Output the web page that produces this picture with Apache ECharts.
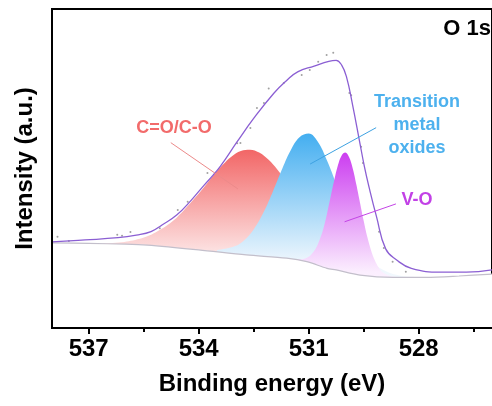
<!DOCTYPE html>
<html>
<head>
<meta charset="utf-8">
<style>
  html, body { margin: 0; padding: 0; background: #fff; }
  #chart { width: 492px; height: 406px; }
</style>
<script src="https://cdn.jsdelivr.net/npm/echarts@6/dist/echarts.min.js"></script>
</head>
<body>
<div id="chart"></div>
<script>
// O 1s XPS spectrum: fitted envelope, Shirley-type background and three component peaks.

// Axis ticks (binding energy, eV)
const MAJOR_TICKS = [537, 534, 531, 528];
const MINOR_TICKS = [535.5, 532.5, 529.5, 526.5];

// Background
const BG_EV = [538.0, 537.0, 536.0, 535.4, 534.0, 532.7, 531.6, 531.05, 530.5, 530.25, 529.6, 528.7, 527.8, 526.9, 526.0];
const BG_I  = [26.7, 26.5, 26.3, 26.0, 24.5, 22.9, 21.9, 20.8, 18.7, 18.2, 16.6, 15.9, 15.9, 16.3, 16.9];

// Fitted envelope
const ENV_EV = [538.0, 537.1, 536.2, 535.7, 535.3, 535.0, 534.6, 534.2, 533.85, 533.6, 533.4, 532.95, 532.5, 531.95, 531.6, 531.3, 530.85, 530.45, 530.25, 530.1, 529.97, 529.8, 529.62, 529.48, 529.35, 529.15, 528.9, 528.6, 528.2, 527.4, 526.7, 526.0];
const ENV_I  = [27.0, 27.6, 28.3, 29.1, 30.2, 32.3, 35.4, 40.1, 44.8, 48.0, 50.8, 58.4, 65.7, 73.6, 77.6, 80.3, 82.1, 83.6, 83.9, 82.4, 78.8, 69.8, 59.0, 50.6, 44.0, 34.9, 24.8, 21.3, 18.7, 17.5, 17.5, 18.2];

// Measured points
const RAW_EV = [537.85, 537.54, 536.76, 536.49, 536.22, 536.09, 535.86, 535.06, 534.57, 534.30, 533.76, 532.95, 532.86, 532.59, 532.41, 532.22, 532.09, 531.68, 531.19, 530.97, 530.74, 530.51, 530.33, 529.89, 529.84, 529.57, 529.52, 529.08, 528.95, 528.71, 528.35, 527.63, 527.14, 527.09, 526.65];
const RAW_I  = [28.6, 27.3, 25.5, 25.5, 29.2, 28.9, 30.1, 31.3, 37.0, 39.6, 48.6, 57.9, 58.0, 62.7, 69.0, 70.5, 75.1, 76.8, 79.3, 80.9, 83.5, 85.6, 86.3, 73.7, 73.0, 56.8, 51.7, 30.2, 25.1, 20.8, 17.6, 15.0, 15.0, 13.5, 16.1];

// Component: C=O/C-O
const CO_EV = [536.6, 536.1, 535.6, 535.35, 535.1, 534.85, 534.6, 534.35, 534.1, 533.85, 533.6, 533.35, 533.1, 532.85, 532.6, 532.35, 532.1, 531.85, 531.6, 531.35, 531.1, 530.85, 530.6, 530.35, 530.1, 529.85, 529.6, 529.1, 528.6];
const CO_I  = [26.6, 26.9, 28.0, 29.0, 30.5, 32.3, 34.6, 37.6, 40.8, 44.2, 47.9, 51.1, 53.8, 55.5, 55.9, 55.0, 52.8, 49.6, 45.6, 41.0, 36.4, 32.0, 27.6, 24.4, 22.0, 19.9, 18.2, 16.6, 16.1];

// Component: transition metal oxides
const TMO_EV = [533.5, 533.0, 532.75, 532.5, 532.25, 532.0, 531.75, 531.5, 531.25, 531.0, 530.75, 530.5, 530.25, 530.0, 529.75, 529.5, 529.25, 529.0, 528.5, 528.0];
const TMO_I  = [24.4, 25.7, 27.6, 30.9, 35.8, 42.1, 49.1, 55.5, 59.8, 61.0, 58.4, 52.5, 45.2, 37.4, 30.3, 24.7, 20.8, 18.4, 16.4, 16.0];

// Component: V-O
const VO_EV = [531.5, 531.2, 531.0, 530.9, 530.8, 530.7, 530.6, 530.5, 530.4, 530.3, 530.2, 530.1, 530.0, 529.9, 529.8, 529.7, 529.6, 529.5, 529.4, 529.3, 529.2, 529.1, 529.0, 528.8, 528.5];
const VO_I  = [21.7, 21.5, 22.3, 23.4, 25.1, 27.7, 31.1, 35.8, 41.2, 46.5, 51.1, 54.1, 55.0, 53.6, 50.1, 45.0, 39.3, 33.6, 28.5, 24.4, 21.3, 19.1, 17.6, 16.4, 15.9];

// Leader lines from each label to its peak: [eV, intensity] pairs
const CO_LEADER  = [[534.76, 58.1], [532.93, 43.6]];
const TMO_LEADER = [[529.16, 62.8], [530.96, 51.4]];
const VO_LEADER  = [[528.62, 38.9], [530.02, 33.3]];

const FONT = 'Arial, "Liberation Sans", sans-serif';

function pairs(xs, ys) { return xs.map((x, i) => [x, ys[i]]); }

function peakSeries(name, xs, ys, top, mid, fade) {
  return {
    name: name, type: 'line', xAxisIndex: 0, yAxisIndex: 0,
    data: pairs(xs, ys), smooth: 0.4, symbol: 'none',
    lineStyle: { width: 0, opacity: 0 },
    areaStyle: {
      opacity: 1,
      color: new echarts.graphic.LinearGradient(0, 0, 0, 1, [
        { offset: 0, color: top },
        { offset: fade, color: mid },
        { offset: 1, color: '#ffffff' }
      ])
    },
    silent: true
  };
}

function leader(data, color) {
  return {
    type: 'line', data: data, symbol: 'none', silent: true,
    lineStyle: { color: color, width: 1 }
  };
}

const chart = echarts.init(document.getElementById('chart'), null, { renderer: 'canvas' });

chart.setOption({
  animation: false,
  backgroundColor: '#ffffff',
  grid: {
    left: 52, top: 9, right: -4, bottom: 78,
    show: true, borderColor: '#000', borderWidth: 2, backgroundColor: 'transparent'
  },
  xAxis: [{
    type: 'value', min: 526, max: 538, inverse: true, z: 10,
    name: 'Binding energy (eV)', nameLocation: 'middle', nameGap: 44,
    nameTextStyle: { fontFamily: FONT, fontSize: 24, fontWeight: 'bold', color: '#000' },
    axisLine: { lineStyle: { color: '#000', width: 2 } },
    axisTick: { customValues: MAJOR_TICKS, length: 6, lineStyle: { color: '#000', width: 2 } },
    axisLabel: { customValues: MAJOR_TICKS, margin: 9, fontFamily: FONT, fontSize: 24, fontWeight: 'bold', color: '#000' },
    splitLine: { show: false }
  }, {
    type: 'value', min: 526, max: 538, inverse: true, position: 'bottom', z: 10,
    axisLine: { show: false },
    axisTick: { customValues: MINOR_TICKS, length: 4, lineStyle: { color: '#000', width: 2 } },
    axisLabel: { show: false },
    splitLine: { show: false }
  }],
  yAxis: {
    type: 'value', min: 0, max: 100, z: 10,
    name: 'Intensity (a.u.)', nameLocation: 'middle', nameGap: 15,
    nameTextStyle: { fontFamily: FONT, fontSize: 24, fontWeight: 'bold', color: '#000' },
    axisLine: { show: true, lineStyle: { color: '#000', width: 2 } },
    axisTick: { show: false },
    axisLabel: { show: false },
    splitLine: { show: false }
  },
  series: [
    peakSeries('C=O/C-O', CO_EV, CO_I, '#f26666', '#fde8e8', 0.6),
    peakSeries('Transition metal oxides', TMO_EV, TMO_I, '#43aef0', '#eef6fd', 0.66),
    peakSeries('V-O', VO_EV, VO_I, '#cc3ef0', '#fbeefe', 0.68),
    {
      // white fill below the background so component fills start at it
      type: 'line', data: pairs(BG_EV, BG_I), smooth: 0.3, symbol: 'none', silent: true,
      lineStyle: { width: 0, opacity: 0 },
      areaStyle: { color: '#ffffff', opacity: 1 }
    },
    {
      name: 'Background', type: 'line', data: pairs(BG_EV, BG_I), smooth: 0.3, symbol: 'none', silent: true,
      lineStyle: { color: '#c3bfcb', width: 1.2 }
    },
    {
      name: 'Raw', type: 'scatter', data: pairs(RAW_EV, RAW_I), symbol: 'circle', symbolSize: 2,
      itemStyle: { color: '#8a8a8a', opacity: 0.8 }, silent: true
    },
    {
      name: 'Envelope', type: 'line', data: pairs(ENV_EV, ENV_I), smooth: 0.45, symbol: 'none', silent: true,
      lineStyle: { color: '#8b5fd3', width: 1.3 }
    },
    leader(CO_LEADER, '#ec8a8a'),
    leader(TMO_LEADER, '#3ea2e2'),
    leader(VO_LEADER, '#c444e6')
  ],
  graphic: [
    { type: 'text', x: 174, y: 128, style: { text: 'C=O/C-O', fill: '#f26b6b', font: 'bold 18px ' + FONT, textAlign: 'center', textVerticalAlign: 'middle' } },
    { type: 'text', x: 417, y: 125, style: { text: 'Transition\nmetal\noxides', fill: '#4db1ee', font: 'bold 18px ' + FONT, lineHeight: 23, textAlign: 'center', textVerticalAlign: 'middle' } },
    { type: 'text', x: 417, y: 200, style: { text: 'V-O', fill: '#c241e6', font: 'bold 18px ' + FONT, textAlign: 'center', textVerticalAlign: 'middle' } },
    { type: 'text', x: 491, y: 29, style: { text: 'O 1s', fill: '#000', font: 'bold 22px ' + FONT, textAlign: 'right', textVerticalAlign: 'middle' } }
  ]
});
</script>
</body>
</html>
